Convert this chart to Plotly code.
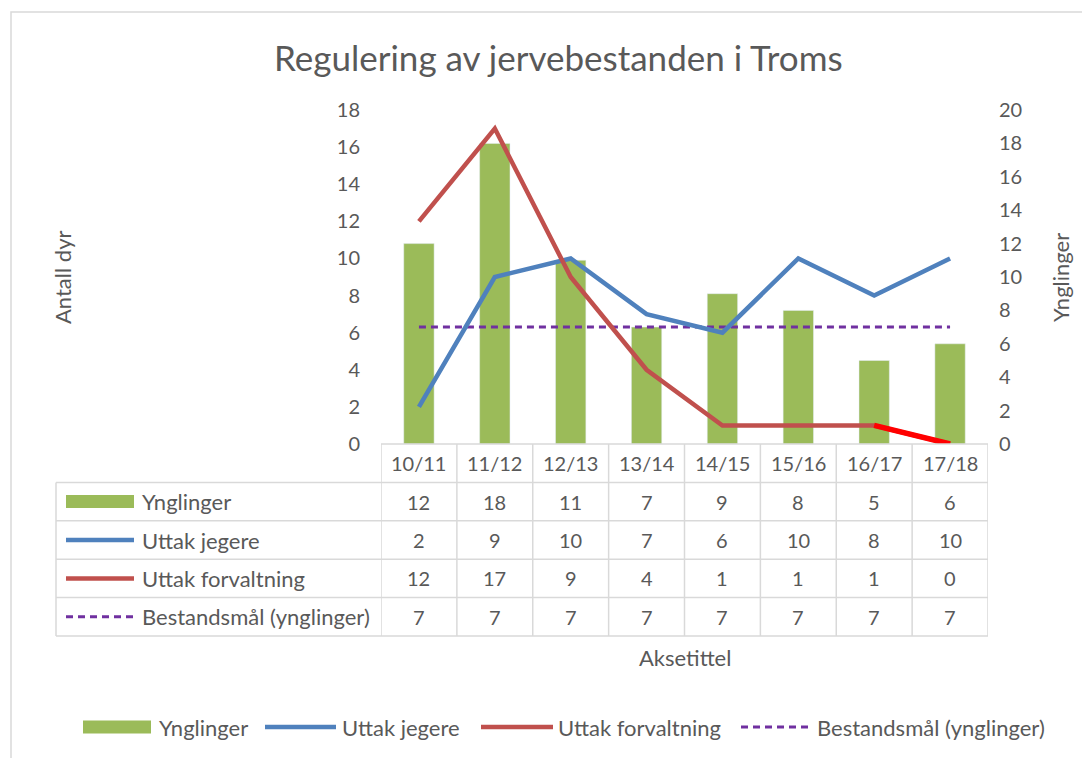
import plotly.graph_objects as go

categories = ["10/11", "11/12", "12/13", "13/14", "14/15", "15/16", "16/17", "17/18"]
ynglinger = [12, 18, 11, 7, 9, 8, 5, 6]
uttak_jegere = [2, 9, 10, 7, 6, 10, 8, 10]
uttak_forvaltning = [12, 17, 9, 4, 1, 1, 1, 0]
bestandsmal = [7, 7, 7, 7, 7, 7, 7, 7]
series_names = ["Ynglinger", "Uttak jegere", "Uttak forvaltning", "Bestandsmål (ynglinger)"]

OFF = 8  # page body margin
W, H = 1090 - OFF, 758 - OFF
PL, PR, PT, PB = 381, 988, 110, 444  # plot area in screenshot pixels
FONT = "Lato"
TXT = "#595959"
GRID = "#D9D9D9"
GREEN, BLUE, RED, PURPLE = "#9BBB59", "#4F81BD", "#C0504D", "#7030A0"
DASH = "7px,5px"
TS = 22  # text size
NS = 20  # number size


def xp(px):
    return (px - PL) / (PR - PL)


def yp(py):
    return (PB - py) / (PB - PT)


fig = go.Figure()
fig.add_trace(go.Bar(x=categories, y=ynglinger, name=series_names[0], marker_color=GREEN,
                     width=0.4, yaxis="y"))
fig.add_trace(go.Scatter(x=categories, y=bestandsmal, name=series_names[3], mode="lines",
                         line=dict(color=PURPLE, width=3, dash=DASH), yaxis="y"))
fig.add_trace(go.Scatter(x=categories, y=uttak_jegere, name=series_names[1], mode="lines",
                         line=dict(color=BLUE, width=4.5), yaxis="y2"))
fig.add_trace(go.Scatter(x=categories, y=uttak_forvaltning, name=series_names[2], mode="lines",
                         line=dict(color=RED, width=4.5), yaxis="y2"))
fig.add_trace(go.Scatter(x=categories[-2:], y=uttak_forvaltning[-2:], mode="lines",
                         line=dict(color="#FF0000", width=5.5), yaxis="y2", showlegend=False))

shapes = []
annotations = []


def text(x, y, s, size, anchor="center", angle=0, xref="paper"):
    annotations.append(dict(x=x, xref=xref, y=yp(y), yref="paper", text=s, showarrow=False,
                            xanchor=anchor, yanchor="middle", textangle=angle,
                            font=dict(size=size, color=TXT, family=FONT)))


# outer chart border
shapes.append(dict(type="rect", xref="paper", yref="paper", x0=xp(11), x1=xp(1100),
                   y0=yp(770), y1=yp(12), line=dict(color=GRID, width=1.5)))

# data table grid
row_h = (636 - PB) / 5
row_tops = [PB + row_h * k for k in range(6)]
shapes.append(dict(type="line", xref="paper", yref="paper", x0=xp(PL), x1=xp(PR),
                   y0=yp(PB), y1=yp(PB), line=dict(color=GRID, width=1.5)))
for k in range(1, 6):
    shapes.append(dict(type="line", xref="paper", yref="paper", x0=xp(56), x1=xp(PR),
                       y0=yp(row_tops[k]), y1=yp(row_tops[k]), line=dict(color=GRID, width=1.5)))
shapes.append(dict(type="line", xref="paper", yref="paper", x0=xp(56), x1=xp(56),
                   y0=yp(row_tops[1]), y1=yp(row_tops[5]), line=dict(color=GRID, width=1.5)))
for i in range(len(categories) + 1):
    shapes.append(dict(type="line", xref="x", yref="paper", x0=i - 0.5, x1=i - 0.5,
                       y0=yp(PB), y1=yp(row_tops[5]), line=dict(color=GRID, width=1.5)))

for i, c in enumerate(categories):
    text(i, (row_tops[0] + row_tops[1]) / 2, c, NS, xref="x")
rows = [ynglinger, uttak_jegere, uttak_forvaltning, bestandsmal]
for r, vals in enumerate(rows):
    cy = (row_tops[r + 1] + row_tops[r + 2]) / 2
    for i, v in enumerate(vals):
        text(i, cy, str(v), NS, xref="x")
    text(xp(140), cy, series_names[r], TS, anchor="left")


def legend_symbol(r, x0, x1, cy):
    if r == 0:
        shapes.append(dict(type="rect", xref="paper", yref="paper", x0=xp(x0), x1=xp(x1),
                           y0=yp(cy + 6.5), y1=yp(cy - 6.5), fillcolor=GREEN, line=dict(width=0)))
    else:
        col = [None, BLUE, RED, PURPLE][r]
        dash = DASH if r == 3 else "solid"
        shapes.append(dict(type="line", xref="paper", yref="paper", x0=xp(x0), x1=xp(x1),
                           y0=yp(cy), y1=yp(cy),
                           line=dict(color=col, width=4.5 if r < 3 else 3, dash=dash)))


for r in range(4):
    cy = (row_tops[r + 1] + row_tops[r + 2]) / 2
    legend_symbol(r, 66, 134, cy)

leg_y = 727
leg_items = [(83, 151, 157), (265, 336, 340), (481, 553, 556), (741, 812, 815)]
for r, (a, b, t) in enumerate(leg_items):
    legend_symbol(r, a, b, leg_y)
    text(xp(t), leg_y, series_names[r], TS, anchor="left")

text(xp(558), 57, "Regulering av jervebestanden i Troms", 35)
text(xp(685), 657, "Aksetittel", TS)
text(xp(62), 278, "Antall dyr", TS, angle=-90)
text(xp(1060), 278, "Ynglinger", TS, angle=-90)

fig.update_layout(
    width=W, height=H,
    margin=dict(l=PL - OFF, r=W - (PR - OFF), t=PT - OFF, b=H - (PB - OFF), pad=0),
    paper_bgcolor="white", plot_bgcolor="white",
    showlegend=False,
    xaxis=dict(type="category", range=[-0.5, 7.5], showticklabels=False, showgrid=False,
               zeroline=False, showline=False, ticks=""),
    yaxis=dict(side="right", range=[0, 20], dtick=2, showgrid=False, zeroline=False, showline=False,
               tickfont=dict(size=NS, color=TXT, family=FONT), ticklabelstandoff=10),
    yaxis2=dict(side="left", overlaying="y", range=[0, 18], dtick=2, showgrid=False, zeroline=False,
                showline=False, tickfont=dict(size=NS, color=TXT, family=FONT), ticklabelstandoff=20),
    shapes=shapes,
    annotations=annotations,
)

fig.write_html("out.html")
